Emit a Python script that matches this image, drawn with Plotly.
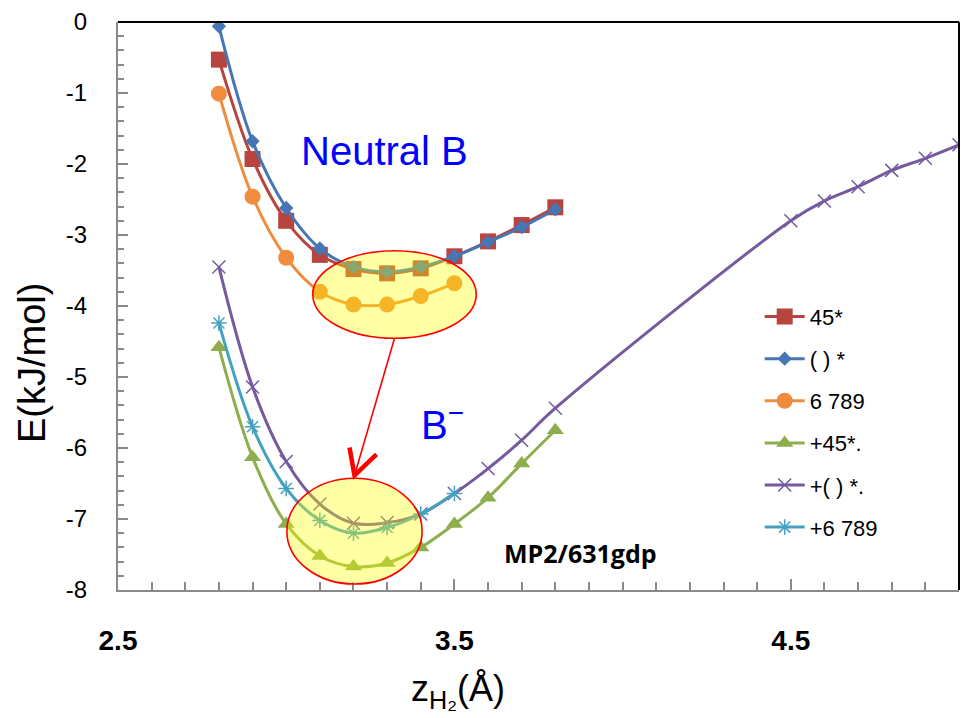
import plotly.graph_objects as go

# ---- data -------------------------------------------------------------
z_neutral = [2.8, 2.9, 3.0, 3.1, 3.2, 3.3, 3.4, 3.5, 3.6, 3.7, 3.8]
z_short = [2.8, 2.9, 3.0, 3.1, 3.2, 3.3, 3.4, 3.5]
z_long = [2.8, 2.9, 3.0, 3.1, 3.2, 3.3, 3.4, 3.5, 3.6, 3.7, 3.8,
          4.5, 4.6, 4.7, 4.8, 4.9, 5.0]

e_45 = [-0.53, -1.93, -2.80, -3.28, -3.48, -3.54, -3.47, -3.30, -3.09, -2.86, -2.61]
e_paren = [-0.06, -1.68, -2.62, -3.19, -3.45, -3.52, -3.45, -3.30, -3.10, -2.89, -2.64]
e_6789 = [-1.01, -2.46, -3.32, -3.80, -3.98, -3.98, -3.86, -3.68]
e_anion_45 = [-4.58, -6.13, -7.07, -7.52, -7.67, -7.62, -7.40, -7.07, -6.70, -6.22, -5.75]
e_anion_paren = [-3.45, -5.14, -6.19, -6.79, -7.06, -7.05, -6.93, -6.64, -6.29, -5.89, -5.44,
                 -2.80, -2.52, -2.32, -2.09, -1.92, -1.73]
e_anion_6789 = [-4.24, -5.70, -6.57, -7.02, -7.20, -7.12, -6.93, -6.64]

names = ["45*", "( ) *", "6 789", "+45*.", "+( ) *.", "+6 789"]

y_ticks = [0, -1, -2, -3, -4, -5, -6, -7, -8]
y_tick_text = ["0", "-1", "-2", "-3", "-4", "-5", "-6", "-7", "-8"]
x_ticks = [2.5, 3.5, 4.5]
x_tick_text = ["2.5", "3.5", "4.5"]

# ---- figure -----------------------------------------------------------
fig = go.Figure()

series = [
    (z_neutral, e_45, names[0], "#B8443F", dict(symbol="square", size=16)),
    (z_neutral, e_paren, names[1], "#4676B4", dict(symbol="diamond", size=11)),
    (z_short, e_6789, names[2], "#F08C3E", dict(symbol="circle", size=16)),
    (z_neutral, e_anion_45, names[3], "#8EAE4E", dict(symbol="triangle-up", size=15)),
    (z_long, e_anion_paren, names[4], "#765A9E",
     dict(symbol="x-thin-open", size=13, line=dict(width=1.5, color="#5E5278"))),
    (z_short, e_anion_6789, names[5], "#44A2C0",
     dict(symbol="asterisk-open", size=13, line=dict(width=1.5, color="#3F8FAA"))),
]

for i, (xs, ys, name, color, mk) in enumerate(series):
    marker = dict(color=color, **mk)
    fig.add_trace(go.Scatter(
        x=xs, y=ys, name=name, mode="lines+markers",
        line=dict(color=color, width=3, shape="spline", smoothing=1.0),
        marker=marker, legendgroup=f"g{i}",
    ))

# highlight ellipses (x0, x1, y0, y1 in data units)
neutral_ell = (3.079, 3.565, -3.221, -4.455)
anion_ell = (3.002, 3.404, -6.427, -7.915)
for (x0, x1, y0, y1) in (neutral_ell, anion_ell):
    fig.add_shape(type="circle", xref="x", yref="y", x0=x0, x1=x1, y0=y0, y1=y1,
                  fillcolor="rgba(255,255,0,0.36)",
                  line=dict(color="#FF0000", width=1.6), layer="above")

# arrow from the neutral minimum to the anion minimum
ax0 = (neutral_ell[0] + neutral_ell[1]) / 2
ay0 = neutral_ell[3]
ax1 = (anion_ell[0] + anion_ell[1]) / 2
ay1 = anion_ell[2] + 0.04
fig.add_shape(type="line", xref="x", yref="y", x0=ax0, y0=ay0, x1=ax1, y1=ay1,
              line=dict(color="#FF0000", width=1.6))
fig.add_shape(type="path", xref="x", yref="y", xsizemode="pixel", ysizemode="pixel",
              xanchor=ax1, yanchor=ay1, path="M -5,28 L 0,0 L 22,21",
              line=dict(color="#FF0000", width=4.5))

# frame: black top and right edges
fig.add_shape(type="line", xref="paper", yref="paper", x0=0, x1=1, y0=1, y1=1,
              line=dict(color="black", width=2))
fig.add_shape(type="line", xref="paper", yref="paper", x0=1, x1=1, y0=0, y1=1,
              line=dict(color="black", width=2))

# text labels
fig.add_annotation(x=3.293, y=-1.82, xref="x", yref="y", text="Neutral B",
                   showarrow=False, font=dict(family="Liberation Sans, Arial", size=40, color="#0000FF"))
fig.add_annotation(x=3.465, y=-5.64, xref="x", yref="y", text="B<sup>−</sup>",
                   showarrow=False, font=dict(family="Liberation Sans, Arial", size=40, color="#0000FF"))
fig.add_annotation(x=3.875, y=-7.48, xref="x", yref="y", text="<b>MP2/631gdp</b>",
                   showarrow=False, font=dict(family="Open Sans, Liberation Sans", size=25, color="black"))

# axis titles
fig.add_annotation(x=-0.102, y=0.40, xref="paper", yref="paper", text="E(kJ/mol)",
                   textangle=-90, showarrow=False, xanchor="center", yanchor="middle",
                   font=dict(family="Liberation Sans, Arial", size=38, color="black"))
fig.add_annotation(x=0.404, y=-0.178, xref="paper", yref="paper",
                   text="z<sub>H₂</sub>(Å)", showarrow=False, xanchor="center", yanchor="middle",
                   font=dict(family="Liberation Sans Narrow, Liberation Sans", size=36, color="black"))

axis_gray = "#8A8A8A"
fig.update_xaxes(
    range=[2.5, 5.0], showgrid=False, zeroline=False,
    showline=True, linecolor=axis_gray, linewidth=2,
    ticks="inside", ticklen=11, tickwidth=2, tickcolor=axis_gray,
    tickvals=x_ticks, ticktext=x_tick_text,
    minor=dict(dtick=0.1, tick0=2.5, ticks="inside", ticklen=8, tickwidth=1.5, tickcolor=axis_gray),
    tickfont=dict(family="Liberation Sans, Arial", size=28, color="black", weight="bold"),
    ticklabelstandoff=24,
)
fig.update_yaxes(
    range=[-8, 0], showgrid=False, zeroline=False,
    showline=True, linecolor=axis_gray, linewidth=2,
    ticks="inside", ticklen=10, tickwidth=2, tickcolor=axis_gray,
    tickvals=y_ticks, ticktext=y_tick_text,
    minor=dict(dtick=0.2, tick0=0, ticks="inside", ticklen=6, tickwidth=1.5, tickcolor=axis_gray),
    tickfont=dict(family="Liberation Sans, Arial", size=24, color="black"),
    ticklabelstandoff=24,
)

fig.update_layout(
    width=961, height=718,
    margin=dict(l=118, r=2, t=22, b=128),
    plot_bgcolor="white", paper_bgcolor="white",
    showlegend=True,
    legend=dict(x=0.763, y=0.518, xanchor="left", yanchor="top",
                bgcolor="rgba(0,0,0,0)", tracegroupgap=10.5, itemwidth=40,
                font=dict(family="Liberation Sans, Arial", size=22, color="black")),
)

fig.write_html("out.html")
